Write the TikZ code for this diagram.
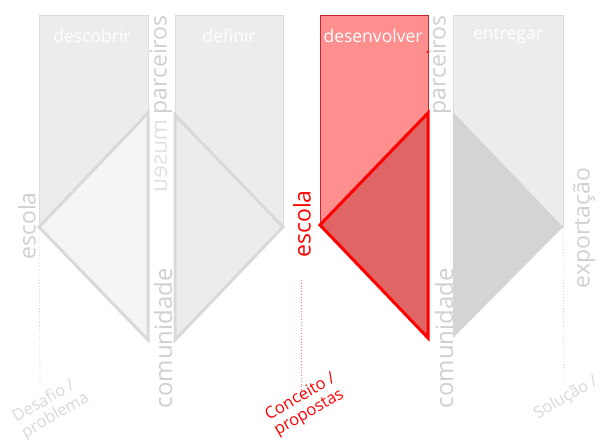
\documentclass[tikz,border=0pt]{standalone}
\usepackage{fontspec}
\setmainfont{Open Sans}
\definecolor{panelgray}{HTML}{ECECEC}
\definecolor{panelline}{HTML}{DCDCDC}
\definecolor{trione}{HTML}{F5F5F5}
\definecolor{triline}{HTML}{D9D9D9}
\definecolor{trifour}{HTML}{D4D4D4}
\definecolor{redpanel}{HTML}{FF8F8F}
\definecolor{redpanelline}{HTML}{C0282D}
\definecolor{redtri}{HTML}{E06666}
\definecolor{pured}{HTML}{FF0000}
\definecolor{labgray}{HTML}{D0D0D0}
\definecolor{lightlab}{HTML}{E2E2E2}
\definecolor{botgray}{HTML}{D8D8D8}
\definecolor{dotgray}{HTML}{CCCCCC}
\definecolor{dotred}{HTML}{FF8080}
\begin{document}
\begin{tikzpicture}[x=1pt,y=-1pt,
  panel/.style={fill=panelgray,draw=panelline,line width=0.8pt},
  redpanelbox/.style={fill=redpanel,draw=redpanelline,line width=0.8pt},
  title/.style={text=white,font=\fontsize{17.5}{17.5}\selectfont,inner sep=0pt},
  sidelab/.style={text=labgray,font=\fontsize{23}{23}\selectfont,rotate=90,inner sep=0pt},
  grayedge/.style={draw=triline,line width=3pt},
  dots/.style={dotted,line width=0.8pt},
  botlab/.style={font=\fontsize{16.5}{18}\selectfont,rotate=30,align=left,inner sep=0pt}
]
\useasboundingbox (0,0) rectangle (603,441);
% panels
\path[panel] (39,15) rectangle (148,227);
\path[panel] (175,15) rectangle (283,227);
\path[redpanelbox] (320,15) rectangle (428,227);
\path[panel] (453,15) rectangle (563,227);
% coordinates of triangle vertices
\coordinate (a1) at (39,227); \coordinate (a2) at (148,113); \coordinate (a3) at (148,340);
\coordinate (b1) at (175,115); \coordinate (b2) at (283,227); \coordinate (b3) at (175,340);
\coordinate (c1) at (320,225); \coordinate (c2) at (428,113); \coordinate (c3) at (428,338);
\coordinate (d1) at (453,112); \coordinate (d2) at (563,227); \coordinate (d3) at (453,338);
% triangles
\path[grayedge,fill=trione] (a1) -- (a2) -- (a3) -- cycle;
\path[grayedge,fill=panelgray] (b1) -- (b2) -- (b3) -- cycle;
\path[draw=pured,line width=3pt,fill=redtri] (c1) -- (c2) -- (c3) -- cycle;
\path[fill=trifour] (d1) -- (d2) -- (d3) -- cycle;
\fill[pured] (428,52) circle (1.3);
% titles
\node[title] (t1) at (92,36) {descobrir};
\node[title] (t2) at (229,36) {definir};
\node[title] (t3) at (373,36) {desenvolver};
\node[title] (t4) at (508,36) {entregar};
% side labels
\node[sidelab] (p1) at (161,65) {parceiros};
\node[sidelab,text=lightlab,xscale=-1] (m1) at (161,156) {museu};
\node[sidelab,font=\fontsize{24}{24}\selectfont] (c1l) at (163,338) {comunidade};
\node[sidelab] (e1) at (27,226) {escola};
\node[sidelab,text=pured] (e2) at (302,224) {escola};
\node[sidelab] (p2) at (440,65) {parceiros};
\node[sidelab,font=\fontsize{24}{24}\selectfont] (c2l) at (444,338) {comunidade};
\node[sidelab] (x1) at (584,228) {exportação};
% dotted lines
\coordinate (l1e) at (40,384);
\coordinate (l2s) at (301,280); \coordinate (l2e) at (301,392);
\coordinate (l3e) at (564,384);
\draw[dots,draw=dotgray] (a1) -- (l1e);
\draw[dots,draw=dotred] (l2s) -- (l2e);
\draw[dots,draw=dotgray] (d2) -- (l3e);
% bottom labels
\node[botlab,text=botgray] (bl1) at (51,408) {Desafio /\\problema};
\node[botlab,text=pured] (bl2) at (305,405) {Conceito /\\propostas};
\node[botlab,text=botgray] (bl3) at (566,398) {Solução /};
\end{tikzpicture}
\end{document}
